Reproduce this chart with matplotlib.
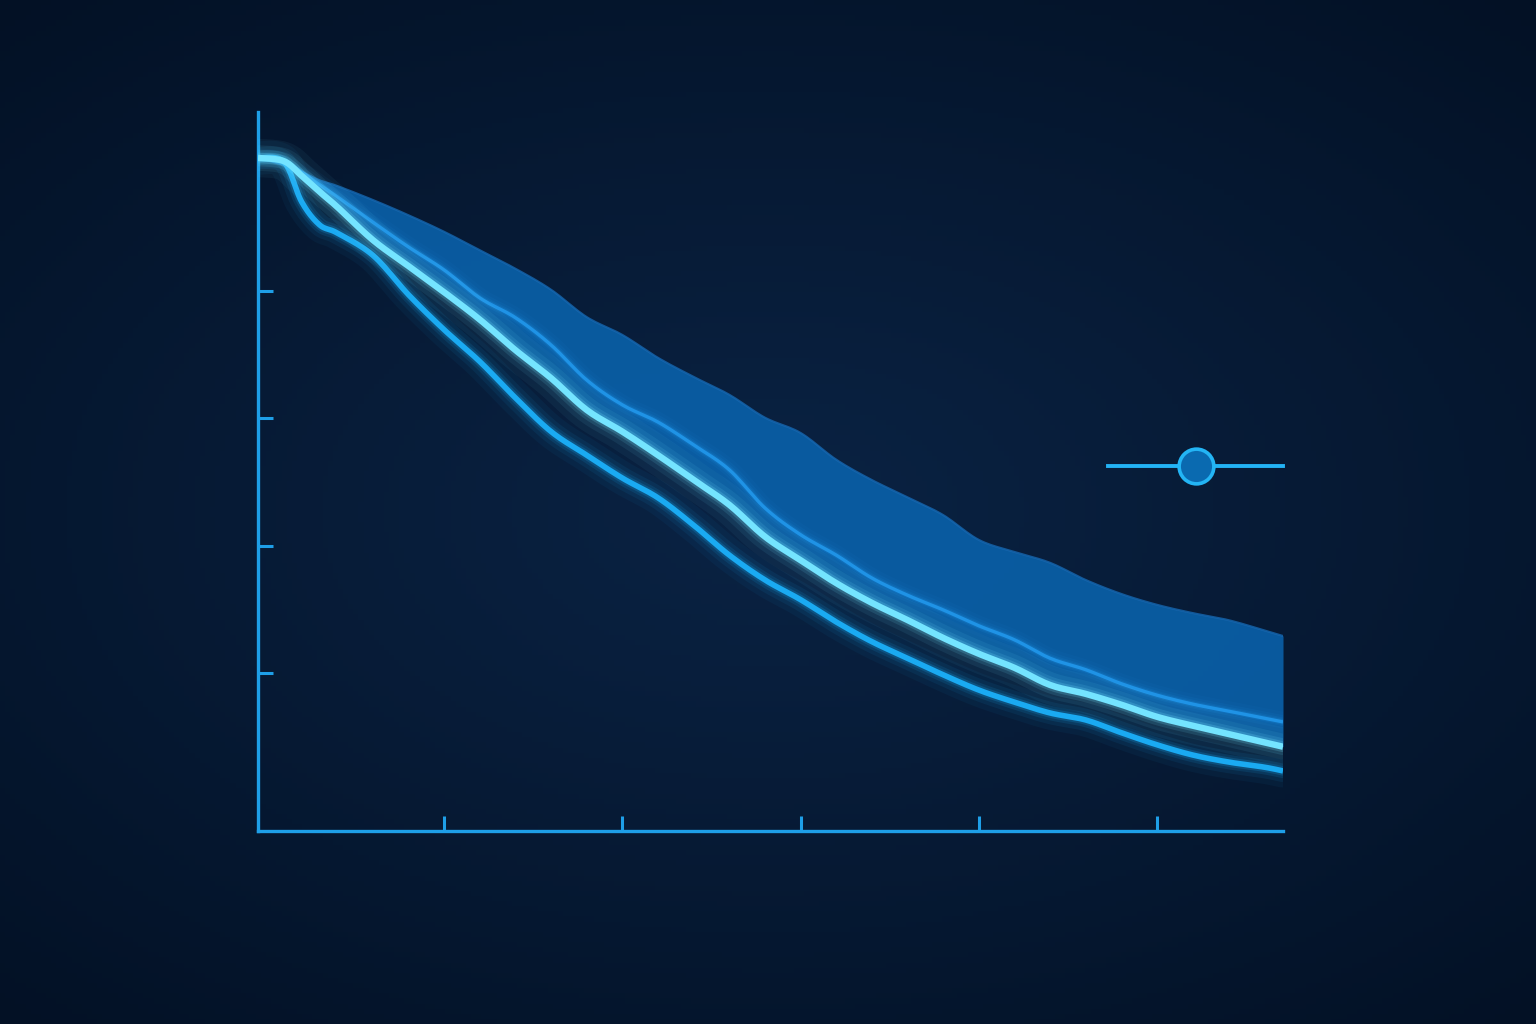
import numpy as np
import matplotlib.pyplot as plt
from matplotlib.lines import Line2D

# readings from the reference (x in arbitrary time units, y in percent)
x = [-0.45, 1, 2, 3, 4, 6, 8, 10, 12, 14, 16, 18, 20, 22, 24, 26, 28, 30,
     32, 34, 36, 38, 40, 42, 44, 46, 48, 50, 52, 54, 56, 57.07]

lower = [100.9, 100.3, 94.0, 90.4, 89.1, 85.6, 79.4, 73.9, 68.9, 63.2, 57.9,
         54.2, 50.6, 47.5, 43.2, 38.5, 34.6, 31.5, 28.0, 24.9, 22.3, 19.7,
         17.3, 15.4, 13.7, 12.6, 10.6, 8.7, 7.1, 6.0, 5.2, 4.6]

central = [100.9, 100.4, 98.1, 95.6, 93.2, 88.0, 83.9, 79.8, 75.5, 70.7, 66.3,
           61.3, 57.9, 54.2, 50.3, 46.4, 41.4, 37.7, 34.1, 31.0, 28.3, 25.5,
           23.0, 20.8, 18.1, 16.7, 15.0, 13.1, 11.7, 10.4, 9.1, 8.4]

inner = [100.9, 100.3, 98.7, 96.7, 94.8, 90.8, 86.9, 83.3, 78.9, 75.8, 71.5,
         66.0, 62.1, 59.4, 55.8, 51.9, 45.9, 41.7, 38.5, 34.9, 32.2, 29.9,
         27.4, 25.2, 22.3, 20.5, 18.3, 16.5, 15.1, 14.0, 12.9, 12.3]

upper = [100.9, 99.8, 98.7, 97.4, 96.5, 94.3, 91.9, 89.3, 86.4, 83.5, 80.2,
         75.9, 73.1, 69.5, 66.5, 63.7, 60.1, 57.7, 53.5, 50.3, 47.6, 44.8,
         40.9, 39.0, 37.3, 34.6, 32.4, 30.7, 29.4, 28.3, 26.7, 25.8]

xticks = [10, 20, 30, 40, 50]
yticks = [20, 40, 60, 80]

BG = '#051a33'
AXIS = '#1e9fe8'


def smooth(xs, ys, n=12):
    # catmull-rom pass through the read points, only for drawing
    p = np.column_stack([xs, ys]).astype(float)
    p = np.vstack([p[0], p, p[-1]])
    out = []
    t = np.linspace(0, 1, n, endpoint=False)[:, None]
    for i in range(1, len(p) - 2):
        p0, p1, p2, p3 = p[i - 1], p[i], p[i + 1], p[i + 2]
        seg = 0.5 * ((2 * p1) + (-p0 + p2) * t
                     + (2 * p0 - 5 * p1 + 4 * p2 - p3) * t ** 2
                     + (-p0 + 3 * p1 - 3 * p2 + p3) * t ** 3)
        out.append(seg)
    out.append(p[-2][None, :])
    out = np.vstack(out)
    return out[:, 0], out[:, 1]


fig = plt.figure(figsize=(15.36, 10.24), dpi=100, facecolor=BG)

# soft vignette background
bg = fig.add_axes([0, 0, 1, 1], zorder=-5)
gx, gy = np.meshgrid(np.linspace(-1, 1, 300), np.linspace(-1, 1, 200))
r = np.sqrt((gx * 0.9) ** 2 + (gy * 1.0) ** 2)
c_in = np.array([0x0a, 0x23, 0x44]) / 255
c_out = np.array([0x03, 0x11, 0x25]) / 255
t = np.clip(r / 1.35, 0, 1)[..., None]
bg.imshow(c_in * (1 - t) + c_out * t, aspect='auto', extent=[0, 1, 0, 1])
bg.axis('off')

ax = fig.add_axes([258 / 1536, 1 - 831 / 1024, (1283 - 258) / 1536, (831 - 112) / 1024])
ax.set_facecolor('none')

sx, s_up = smooth(x, upper)
_, s_cen = smooth(x, central)
_, s_in = smooth(x, inner)
_, s_low = smooth(x, lower)

# band between central curve and upper bound
ax.fill_between(sx, s_cen, s_up, color='#0a63ad', alpha=0.88, lw=0, zorder=2)
ax.plot(sx, s_up, color='#1668b2', lw=1.5, alpha=0.8, zorder=2)


def glow_line(xs, ys, color, lw, z):
    for k, a in [(6, 0.05), (4, 0.08), (2.6, 0.12), (1.7, 0.2)]:
        ax.plot(xs, ys, color=color, lw=lw * k, alpha=a, solid_capstyle='round',
                solid_joinstyle='round', zorder=z)
    ax.plot(xs, ys, color=color, lw=lw, solid_capstyle='butt',
            solid_joinstyle='round', zorder=z + 0.5)


glow_line(sx, s_in, '#1f93e6', 2.4, 3)
glow_line(sx, s_low, '#1aaaf2', 4.0, 4)
glow_line(sx, s_cen, '#74e4ff', 4.6, 5)

ax.set_xlim(-0.45, 57.07)
ax.set_ylim(-4.84, 108.12)
ax.set_xticks(xticks)
ax.set_yticks(yticks)
ax.tick_params(direction='in', length=11, width=2.2, color=AXIS,
               labelbottom=False, labelleft=False)
for side in ['top', 'right']:
    ax.spines[side].set_visible(False)
for side in ['left', 'bottom']:
    ax.spines[side].set_color(AXIS)
    ax.spines[side].set_linewidth(2.4)

handle = Line2D([], [], color='#23b3f5', lw=2.8, marker='o', markersize=25,
                markerfacecolor='#0a6ab0', markeredgecolor='#23b5f5',
                markeredgewidth=2.6)
ax.legend([handle], [''], loc='center right', bbox_to_anchor=(1.0, 0.506),
          frameon=False, handlelength=12.6, handletextpad=0, borderpad=0,
          borderaxespad=0)

fig.savefig('out.png', dpi=100, facecolor=BG)
